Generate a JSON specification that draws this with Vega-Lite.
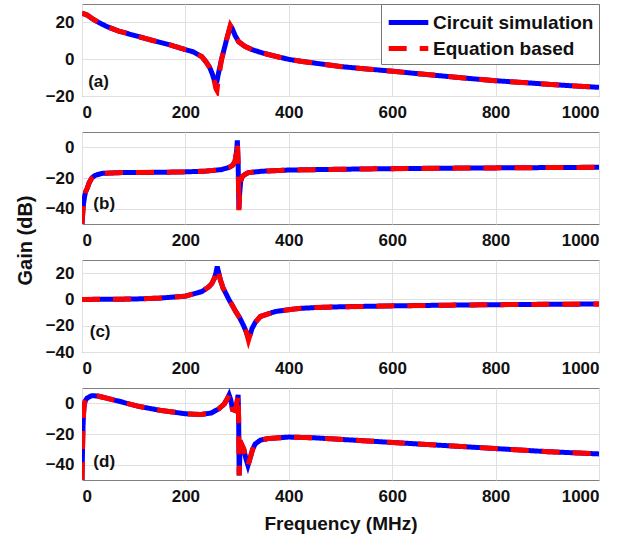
{
  "$schema": "https://vega.github.io/schema/vega-lite/v6.json",
  "padding": {"left": 14, "top": 3, "right": 10, "bottom": 5},
  "background": "white",
  "spacing": 36,
  "bounds": "flush",
  "config": {
    "font": "Liberation Sans",
    "view": {"stroke": "#808080", "strokeWidth": 1},
    "axis": {
      "labelFont": "Liberation Sans", "labelFontWeight": "bold", "labelFontSize": 17, "labelColor": "#111",
      "titleFont": "Liberation Sans", "titleFontWeight": "bold", "titleFontSize": 19, "titleColor": "#111",
      "grid": true, "gridColor": "#e0e0e0", "domain": false, "ticks": false, "labelPadding": 8,
      "labelOverlap": false
    },
    "axisY": {"labelOverlap": false, "labelFlush": false},
    "legend": {"labelFont": "Liberation Sans"}
  },
  "datasets": {
    "curves": [
      {"p":"a","f":0,"Circuit simulation":25,"Equation based":25},
      {"p":"a","f":10,"Circuit simulation":24,"Equation based":24},
      {"p":"a","f":20,"Circuit simulation":22,"Equation based":22},
      {"p":"a","f":32,"Circuit simulation":20,"Equation based":20},
      {"p":"a","f":50,"Circuit simulation":17.5,"Equation based":17.5},
      {"p":"a","f":71,"Circuit simulation":15.3,"Equation based":15.3},
      {"p":"a","f":100,"Circuit simulation":13,"Equation based":13},
      {"p":"a","f":135,"Circuit simulation":10.3,"Equation based":10.3},
      {"p":"a","f":170,"Circuit simulation":7.8,"Equation based":7.8},
      {"p":"a","f":200,"Circuit simulation":5.2,"Equation based":5.2},
      {"p":"a","f":215,"Circuit simulation":4,"Equation based":4},
      {"p":"a","f":232,"Circuit simulation":1.3,"Equation based":1.3},
      {"p":"a","f":240,"Circuit simulation":-1.5,"Equation based":-1.5},
      {"p":"a","f":247,"Circuit simulation":-4.5,"Equation based":-4.5},
      {"p":"a","f":252,"Circuit simulation":-8,"Equation based":-8},
      {"p":"a","f":256,"Circuit simulation":-11.5,"Equation based":-12},
      {"p":"a","f":259,"Circuit simulation":-13,"Equation based":-16},
      {"p":"a","f":261,"Circuit simulation":-12,"Equation based":-17},
      {"p":"a","f":263,"Circuit simulation":-9,"Equation based":-12},
      {"p":"a","f":270,"Circuit simulation":0,"Equation based":0},
      {"p":"a","f":280,"Circuit simulation":11,"Equation based":11},
      {"p":"a","f":287,"Circuit simulation":18,"Equation based":18.4},
      {"p":"a","f":290,"Circuit simulation":17,"Equation based":17},
      {"p":"a","f":296,"Circuit simulation":13,"Equation based":13},
      {"p":"a","f":303,"Circuit simulation":9.5,"Equation based":9.5},
      {"p":"a","f":315,"Circuit simulation":7,"Equation based":7},
      {"p":"a","f":329,"Circuit simulation":5.2,"Equation based":5.2},
      {"p":"a","f":350,"Circuit simulation":3.3,"Equation based":3.3},
      {"p":"a","f":380,"Circuit simulation":1.2,"Equation based":1.2},
      {"p":"a","f":402,"Circuit simulation":-0.2,"Equation based":-0.2},
      {"p":"a","f":430,"Circuit simulation":-1.4,"Equation based":-1.4},
      {"p":"a","f":466,"Circuit simulation":-2.7,"Equation based":-2.7},
      {"p":"a","f":500,"Circuit simulation":-4,"Equation based":-4},
      {"p":"a","f":550,"Circuit simulation":-5.3,"Equation based":-5.3},
      {"p":"a","f":600,"Circuit simulation":-6.5,"Equation based":-6.5},
      {"p":"a","f":658,"Circuit simulation":-8.1,"Equation based":-8.1},
      {"p":"a","f":700,"Circuit simulation":-9.2,"Equation based":-9.2},
      {"p":"a","f":750,"Circuit simulation":-10.5,"Equation based":-10.5},
      {"p":"a","f":800,"Circuit simulation":-11.7,"Equation based":-11.7},
      {"p":"a","f":850,"Circuit simulation":-12.6,"Equation based":-12.6},
      {"p":"a","f":900,"Circuit simulation":-13.6,"Equation based":-13.6},
      {"p":"a","f":950,"Circuit simulation":-14.5,"Equation based":-14.5},
      {"p":"a","f":1000,"Circuit simulation":-15.3,"Equation based":-15.3},

      {"p":"b","f":0,"Circuit simulation":-50,"Equation based":-50},
      {"p":"b","f":1,"Circuit simulation":-45,"Equation based":-45},
      {"p":"b","f":2,"Circuit simulation":-40,"Equation based":-40},
      {"p":"b","f":3,"Circuit simulation":-36.7,"Equation based":-36.7},
      {"p":"b","f":5,"Circuit simulation":-32,"Equation based":-32},
      {"p":"b","f":7,"Circuit simulation":-29,"Equation based":-29},
      {"p":"b","f":10,"Circuit simulation":-26.8,"Equation based":-26.8},
      {"p":"b","f":14,"Circuit simulation":-23,"Equation based":-23},
      {"p":"b","f":19,"Circuit simulation":-20,"Equation based":-20},
      {"p":"b","f":25,"Circuit simulation":-18.3,"Equation based":-18.3},
      {"p":"b","f":39,"Circuit simulation":-17,"Equation based":-17},
      {"p":"b","f":71,"Circuit simulation":-16.5,"Equation based":-16.5},
      {"p":"b","f":150,"Circuit simulation":-16.3,"Equation based":-16.3},
      {"p":"b","f":200,"Circuit simulation":-16,"Equation based":-16},
      {"p":"b","f":240,"Circuit simulation":-15.5,"Equation based":-15.5},
      {"p":"b","f":270,"Circuit simulation":-14.5,"Equation based":-14.5},
      {"p":"b","f":285,"Circuit simulation":-13,"Equation based":-13},
      {"p":"b","f":292,"Circuit simulation":-11.5,"Equation based":-11.5},
      {"p":"b","f":296,"Circuit simulation":-9,"Equation based":-9},
      {"p":"b","f":299,"Circuit simulation":-3,"Equation based":-3},
      {"p":"b","f":300.5,"Circuit simulation":4.5,"Equation based":3},
      {"p":"b","f":302,"Circuit simulation":-10,"Equation based":-10},
      {"p":"b","f":303.5,"Circuit simulation":-40,"Equation based":-41},
      {"p":"b","f":305,"Circuit simulation":-30,"Equation based":-30},
      {"p":"b","f":307,"Circuit simulation":-22,"Equation based":-22},
      {"p":"b","f":310,"Circuit simulation":-19,"Equation based":-19},
      {"p":"b","f":316,"Circuit simulation":-17.5,"Equation based":-17.5},
      {"p":"b","f":322,"Circuit simulation":-16.5,"Equation based":-16.5},
      {"p":"b","f":348,"Circuit simulation":-15.6,"Equation based":-15.6},
      {"p":"b","f":400,"Circuit simulation":-14.8,"Equation based":-14.8},
      {"p":"b","f":500,"Circuit simulation":-14.3,"Equation based":-14.3},
      {"p":"b","f":600,"Circuit simulation":-13.9,"Equation based":-13.9},
      {"p":"b","f":700,"Circuit simulation":-13.6,"Equation based":-13.6},
      {"p":"b","f":800,"Circuit simulation":-13.4,"Equation based":-13.4},
      {"p":"b","f":900,"Circuit simulation":-13.2,"Equation based":-13.2},
      {"p":"b","f":1000,"Circuit simulation":-13,"Equation based":-13},

      {"p":"c","f":0,"Circuit simulation":0,"Equation based":0},
      {"p":"c","f":50,"Circuit simulation":0.1,"Equation based":0.1},
      {"p":"c","f":100,"Circuit simulation":0.3,"Equation based":0.3},
      {"p":"c","f":150,"Circuit simulation":1,"Equation based":1},
      {"p":"c","f":200,"Circuit simulation":2.5,"Equation based":2.5},
      {"p":"c","f":232,"Circuit simulation":6,"Equation based":6},
      {"p":"c","f":245,"Circuit simulation":9.5,"Equation based":9.5},
      {"p":"c","f":251,"Circuit simulation":12,"Equation based":12},
      {"p":"c","f":256,"Circuit simulation":16,"Equation based":16},
      {"p":"c","f":259,"Circuit simulation":20,"Equation based":20},
      {"p":"c","f":261.5,"Circuit simulation":25,"Equation based":23.5},
      {"p":"c","f":264,"Circuit simulation":21,"Equation based":21},
      {"p":"c","f":267.5,"Circuit simulation":15,"Equation based":15},
      {"p":"c","f":273,"Circuit simulation":8.5,"Equation based":8.5},
      {"p":"c","f":279,"Circuit simulation":4,"Equation based":4},
      {"p":"c","f":284,"Circuit simulation":0,"Equation based":0},
      {"p":"c","f":290,"Circuit simulation":-4,"Equation based":-4},
      {"p":"c","f":297,"Circuit simulation":-9,"Equation based":-9},
      {"p":"c","f":305,"Circuit simulation":-14,"Equation based":-14},
      {"p":"c","f":312,"Circuit simulation":-19.5,"Equation based":-19.5},
      {"p":"c","f":318,"Circuit simulation":-25,"Equation based":-25},
      {"p":"c","f":322,"Circuit simulation":-29.5,"Equation based":-31},
      {"p":"c","f":325,"Circuit simulation":-27,"Equation based":-27},
      {"p":"c","f":329,"Circuit simulation":-22,"Equation based":-22},
      {"p":"c","f":336,"Circuit simulation":-17,"Equation based":-17},
      {"p":"c","f":345,"Circuit simulation":-13,"Equation based":-13},
      {"p":"c","f":360,"Circuit simulation":-11,"Equation based":-11},
      {"p":"c","f":374,"Circuit simulation":-9.2,"Equation based":-9.2},
      {"p":"c","f":400,"Circuit simulation":-7.8,"Equation based":-7.8},
      {"p":"c","f":419,"Circuit simulation":-6.9,"Equation based":-6.9},
      {"p":"c","f":450,"Circuit simulation":-6.2,"Equation based":-6.2},
      {"p":"c","f":500,"Circuit simulation":-5.6,"Equation based":-5.6},
      {"p":"c","f":600,"Circuit simulation":-4.9,"Equation based":-4.9},
      {"p":"c","f":700,"Circuit simulation":-4.4,"Equation based":-4.4},
      {"p":"c","f":800,"Circuit simulation":-4,"Equation based":-4},
      {"p":"c","f":900,"Circuit simulation":-3.7,"Equation based":-3.7},
      {"p":"c","f":1000,"Circuit simulation":-3.5,"Equation based":-3.5},

      {"p":"d","f":0,"Circuit simulation":-50,"Equation based":-50},
      {"p":"d","f":0.5,"Circuit simulation":-40,"Equation based":-40},
      {"p":"d","f":1,"Circuit simulation":-30,"Equation based":-30},
      {"p":"d","f":1.5,"Circuit simulation":-22,"Equation based":-22},
      {"p":"d","f":2,"Circuit simulation":-15,"Equation based":-15},
      {"p":"d","f":3,"Circuit simulation":-7,"Equation based":-7},
      {"p":"d","f":4,"Circuit simulation":-2,"Equation based":-2},
      {"p":"d","f":6,"Circuit simulation":1.5,"Equation based":1.5},
      {"p":"d","f":10,"Circuit simulation":3.5,"Equation based":3.5},
      {"p":"d","f":19,"Circuit simulation":5,"Equation based":5},
      {"p":"d","f":30,"Circuit simulation":4.8,"Equation based":4.8},
      {"p":"d","f":40,"Circuit simulation":4,"Equation based":4},
      {"p":"d","f":70,"Circuit simulation":1.5,"Equation based":1.5},
      {"p":"d","f":110,"Circuit simulation":-2,"Equation based":-2},
      {"p":"d","f":150,"Circuit simulation":-4.5,"Equation based":-4.5},
      {"p":"d","f":200,"Circuit simulation":-6.8,"Equation based":-6.8},
      {"p":"d","f":230,"Circuit simulation":-7.3,"Equation based":-7.3},
      {"p":"d","f":250,"Circuit simulation":-6.3,"Equation based":-6.3},
      {"p":"d","f":265,"Circuit simulation":-3.5,"Equation based":-3.5},
      {"p":"d","f":275,"Circuit simulation":-0.5,"Equation based":-0.5},
      {"p":"d","f":281,"Circuit simulation":3,"Equation based":3},
      {"p":"d","f":284.5,"Circuit simulation":5.5,"Equation based":5.5},
      {"p":"d","f":288,"Circuit simulation":2,"Equation based":2},
      {"p":"d","f":291,"Circuit simulation":-4,"Equation based":-4},
      {"p":"d","f":295,"Circuit simulation":-4.5,"Equation based":-4.5},
      {"p":"d","f":298,"Circuit simulation":-2,"Equation based":-2},
      {"p":"d","f":300.5,"Circuit simulation":2,"Equation based":2},
      {"p":"d","f":302,"Circuit simulation":5.5,"Equation based":5.5},
      {"p":"d","f":303,"Circuit simulation":-10,"Equation based":-10},
      {"p":"d","f":304,"Circuit simulation":-47,"Equation based":-47},
      {"p":"d","f":305.5,"Circuit simulation":-32,"Equation based":-32},
      {"p":"d","f":307,"Circuit simulation":-28,"Equation based":-28},
      {"p":"d","f":309,"Circuit simulation":-27,"Equation based":-27},
      {"p":"d","f":313,"Circuit simulation":-30,"Equation based":-30},
      {"p":"d","f":317,"Circuit simulation":-36,"Equation based":-36},
      {"p":"d","f":321,"Circuit simulation":-40.5,"Equation based":-40.5},
      {"p":"d","f":325,"Circuit simulation":-36,"Equation based":-36},
      {"p":"d","f":330,"Circuit simulation":-30,"Equation based":-30},
      {"p":"d","f":335,"Circuit simulation":-26.5,"Equation based":-26.5},
      {"p":"d","f":345,"Circuit simulation":-24,"Equation based":-24},
      {"p":"d","f":360,"Circuit simulation":-23,"Equation based":-23},
      {"p":"d","f":400,"Circuit simulation":-22,"Equation based":-22},
      {"p":"d","f":450,"Circuit simulation":-22.5,"Equation based":-22.5},
      {"p":"d","f":500,"Circuit simulation":-23.5,"Equation based":-23.5},
      {"p":"d","f":550,"Circuit simulation":-24.5,"Equation based":-24.5},
      {"p":"d","f":600,"Circuit simulation":-25.5,"Equation based":-25.5},
      {"p":"d","f":700,"Circuit simulation":-27.5,"Equation based":-27.5},
      {"p":"d","f":800,"Circuit simulation":-29.5,"Equation based":-29.5},
      {"p":"d","f":900,"Circuit simulation":-31.5,"Equation based":-31.5},
      {"p":"d","f":1000,"Circuit simulation":-33,"Equation based":-33}
    ]
  },
  "vconcat": [
    {
      "width": 517, "height": 92,
      "layer": [
        {
          "data": {"name": "curves"},
          "transform": [{"filter": "datum.p === 'a'"}, {"fold": ["Circuit simulation", "Equation based"], "as": ["series", "g"]}],
          "mark": {"type": "line", "strokeWidth": 5, "clip": true},
          "encoding": {
            "x": {"field": "f", "type": "quantitative", "scale": {"domain": [0, 1000]}, "axis": {"values": [0,200,400,600,800,1000], "format": "d", "title": null, "labelOverlap": false}},
            "y": {"field": "g", "type": "quantitative", "scale": {"domain": [-20, 30]}, "axis": {"values": [-20,0,20], "title": null, "labelOverlap": false}},
            "color": {"field": "series", "type": "nominal", "scale": {"domain": ["Circuit simulation", "Equation based"], "range": ["#0000ff", "#ff0000"]},
              "legend": {"title": null, "orient": "top-right", "offset": 0, "fillColor": "white", "strokeColor": "#777", "padding": 5, "rowPadding": 2, "labelLimit": 400,
                "labelFontSize": 19, "labelFontWeight": "bold", "labelColor": "#111", "symbolType": "M-1.8,0H1.8", "symbolSize": 484, "symbolStrokeWidth": 5, "symbolOffset": 9, "labelOffset": 11}},
            "strokeDash": {"field": "series", "type": "nominal", "scale": {"domain": ["Circuit simulation", "Equation based"], "range": [[1, 0], [18, 13]]},
              "legend": {"title": null, "orient": "top-right", "offset": 0, "fillColor": "white", "strokeColor": "#777", "padding": 5, "rowPadding": 2, "labelLimit": 400,
                "labelFontSize": 19, "labelFontWeight": "bold", "labelColor": "#111", "symbolType": "M-1.8,0H1.8", "symbolSize": 484, "symbolStrokeWidth": 5, "symbolOffset": 9, "labelOffset": 11}}
          }
        },
        {
          "data": {"values": [{}]},
          "mark": {"type": "text", "align": "left", "baseline": "middle", "font": "Liberation Sans", "fontWeight": "bold", "fontSize": 17, "color": "#111"},
          "encoding": {
            "x": {"datum": 12, "type": "quantitative", "axis": {"values": [0,200,400,600,800,1000], "format": "d", "title": null, "labelOverlap": false}},
            "y": {"datum": -12.5, "type": "quantitative", "axis": {"values": [-20,0,20], "title": null, "labelOverlap": false}},
            "text": {"value": "(a)"}}
        }
      ],
      "resolve": {"scale": {"color": "independent", "strokeDash": "independent"}}
    },
    {
      "width": 517, "height": 92,
      "layer": [
        {
          "data": {"name": "curves"},
          "transform": [{"filter": "datum.p === 'b'"}, {"fold": ["Circuit simulation", "Equation based"], "as": ["series", "g"]}],
          "mark": {"type": "line", "strokeWidth": 5, "clip": true},
          "encoding": {
            "x": {"field": "f", "type": "quantitative", "scale": {"domain": [0, 1000]}, "axis": {"values": [0,200,400,600,800,1000], "format": "d", "title": null, "labelOverlap": false}},
            "y": {"field": "g", "type": "quantitative", "scale": {"domain": [-50, 10]}, "axis": {"values": [-40,-20,0], "title": "Gain (dB)", "titleFontSize": 20, "titleY": 108, "titlePadding": 10, "labelOverlap": false}},
            "color": {"field": "series", "type": "nominal", "scale": {"domain": ["Circuit simulation", "Equation based"], "range": ["#0000ff", "#ff0000"]}, "legend": null},
            "strokeDash": {"field": "series", "type": "nominal", "scale": {"domain": ["Circuit simulation", "Equation based"], "range": [[1, 0], [18, 13]]}, "legend": null}
          }
        },
        {
          "data": {"values": [{}]},
          "mark": {"type": "text", "align": "left", "baseline": "middle", "font": "Liberation Sans", "fontWeight": "bold", "fontSize": 17, "color": "#111"},
          "encoding": {
            "x": {"datum": 22, "type": "quantitative", "axis": {"values": [0,200,400,600,800,1000], "format": "d", "title": null, "labelOverlap": false}},
            "y": {"datum": -37, "type": "quantitative", "axis": {"values": [-40,-20,0], "title": "Gain (dB)", "titleFontSize": 20, "titleY": 108, "titlePadding": 10, "labelOverlap": false}},
            "text": {"value": "(b)"}}
        }
      ]
    },
    {
      "width": 517, "height": 92,
      "layer": [
        {
          "data": {"name": "curves"},
          "transform": [{"filter": "datum.p === 'c'"}, {"fold": ["Circuit simulation", "Equation based"], "as": ["series", "g"]}],
          "mark": {"type": "line", "strokeWidth": 5, "clip": true},
          "encoding": {
            "x": {"field": "f", "type": "quantitative", "scale": {"domain": [0, 1000]}, "axis": {"values": [0,200,400,600,800,1000], "format": "d", "title": null, "labelOverlap": false}},
            "y": {"field": "g", "type": "quantitative", "scale": {"domain": [-40, 30]}, "axis": {"values": [-40,-20,0,20], "title": null, "labelOverlap": false}},
            "color": {"field": "series", "type": "nominal", "scale": {"domain": ["Circuit simulation", "Equation based"], "range": ["#0000ff", "#ff0000"]}, "legend": null},
            "strokeDash": {"field": "series", "type": "nominal", "scale": {"domain": ["Circuit simulation", "Equation based"], "range": [[1, 0], [18, 13]]}, "legend": null}
          }
        },
        {
          "data": {"values": [{}]},
          "mark": {"type": "text", "align": "left", "baseline": "middle", "font": "Liberation Sans", "fontWeight": "bold", "fontSize": 17, "color": "#111"},
          "encoding": {
            "x": {"datum": 15, "type": "quantitative", "axis": {"values": [0,200,400,600,800,1000], "format": "d", "title": null, "labelOverlap": false}},
            "y": {"datum": -24.5, "type": "quantitative", "axis": {"values": [-40,-20,0,20], "title": null, "labelOverlap": false}},
            "text": {"value": "(c)"}}
        }
      ]
    },
    {
      "width": 517, "height": 92,
      "layer": [
        {
          "data": {"name": "curves"},
          "transform": [{"filter": "datum.p === 'd'"}, {"fold": ["Circuit simulation", "Equation based"], "as": ["series", "g"]}],
          "mark": {"type": "line", "strokeWidth": 5, "clip": true},
          "encoding": {
            "x": {"field": "f", "type": "quantitative", "scale": {"domain": [0, 1000]}, "axis": {"values": [0,200,400,600,800,1000], "format": "d", "title": "Frequency (MHz)", "titlePadding": 10, "labelOverlap": false}},
            "y": {"field": "g", "type": "quantitative", "scale": {"domain": [-50, 10]}, "axis": {"values": [-40,-20,0], "title": null, "labelOverlap": false}},
            "color": {"field": "series", "type": "nominal", "scale": {"domain": ["Circuit simulation", "Equation based"], "range": ["#0000ff", "#ff0000"]}, "legend": null},
            "strokeDash": {"field": "series", "type": "nominal", "scale": {"domain": ["Circuit simulation", "Equation based"], "range": [[1, 0], [18, 13]]}, "legend": null}
          }
        },
        {
          "data": {"values": [{}]},
          "mark": {"type": "text", "align": "left", "baseline": "middle", "font": "Liberation Sans", "fontWeight": "bold", "fontSize": 17, "color": "#111"},
          "encoding": {
            "x": {"datum": 22, "type": "quantitative", "axis": {"values": [0,200,400,600,800,1000], "format": "d", "title": "Frequency (MHz)", "titlePadding": 10, "labelOverlap": false}},
            "y": {"datum": -38.5, "type": "quantitative", "axis": {"values": [-40,-20,0], "title": null, "labelOverlap": false}},
            "text": {"value": "(d)"}}
        }
      ]
    }
  ],
  "resolve": {"scale": {"y": "independent", "color": "independent", "strokeDash": "independent"}}
}
